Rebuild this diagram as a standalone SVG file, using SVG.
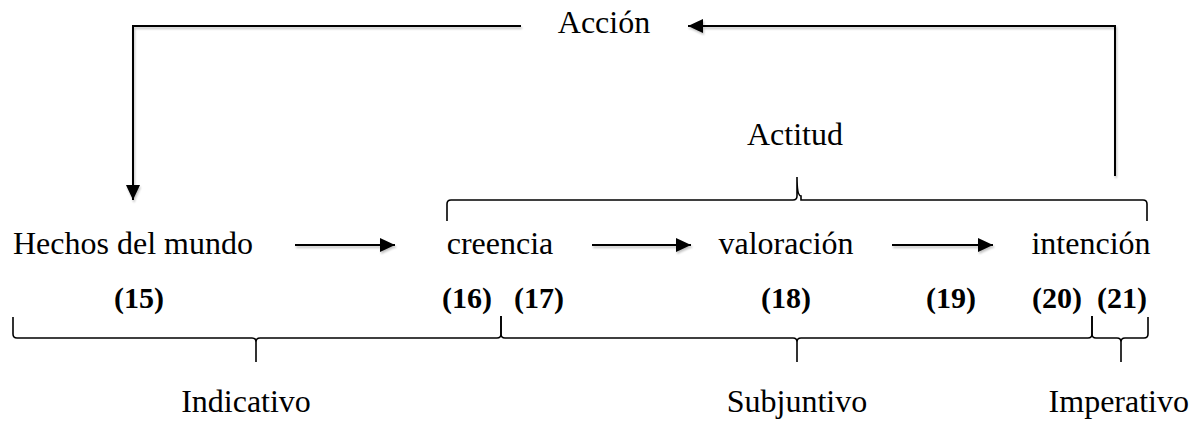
<svg xmlns="http://www.w3.org/2000/svg" width="1195" height="424" viewBox="0 0 1195 424">
  <style>
    .t { font-family: "Liberation Serif", "Times New Roman", serif; font-size: 32px; fill: #000; }
    .n { font-family: "Liberation Serif", "Times New Roman", serif; font-size: 30px; font-weight: bold; fill: #000; }
    .ln { fill: none; stroke: #000; stroke-width: 2; }
    .br { fill: none; stroke: #000; stroke-width: 1.6; }
  </style>
  <defs>
    <marker id="ah" viewBox="0 0 15 14" refX="15" refY="7" markerWidth="15" markerHeight="14" markerUnits="userSpaceOnUse" orient="auto">
      <path d="M0,0 L15,7 L0,14 Z" fill="#000"/>
    </marker>
    <!-- soft grey drop shadow under the connector lines -->
    <filter id="sh" x="-5%" y="-5%" width="110%" height="120%">
      <feGaussianBlur in="SourceAlpha" stdDeviation="1.2"/>
      <feOffset dx="1" dy="2"/>
      <feComponentTransfer><feFuncA type="linear" slope="0.25"/></feComponentTransfer>
      <feMerge><feMergeNode/><feMergeNode in="SourceGraphic"/></feMerge>
    </filter>
  </defs>

  <g id="connectors" filter="url(#sh)">
    <path class="ln" d="M521,26 H133 V200" marker-end="url(#ah)"/>
    <path class="ln" d="M1115,176 V26 H688" marker-end="url(#ah)"/>
    <path class="ln" d="M295,245 H395" marker-end="url(#ah)"/>
    <path class="ln" d="M592,245 H691" marker-end="url(#ah)"/>
    <path class="ln" d="M892,245 H993" marker-end="url(#ah)"/>
  </g>

  <g id="accion"><text class="t" x="604" y="33" text-anchor="middle">Acción</text></g>
  <g id="actitud">
    <text class="t" x="795" y="145" text-anchor="middle">Actitud</text>
    <path class="br" d="M447,221 V204 Q447,200 451,200 H793 Q797,200 797,196 V177 Q797,196 801,196 V200 H1143 Q1147,200 1147,204 V221"/>
  </g>

  <g id="hechos"><text class="t" x="13" y="254">Hechos del mundo</text></g>
  <g id="creencia"><text class="t" x="500" y="254" text-anchor="middle">creencia</text></g>
  <g id="valoracion"><text class="t" x="786" y="254" text-anchor="middle">valoración</text></g>
  <g id="intencion"><text class="t" x="1091" y="254" text-anchor="middle">intención</text></g>

  <g id="numeros">
    <text class="n" x="139" y="308" text-anchor="middle">(15)</text>
    <text class="n" x="467" y="308" text-anchor="middle">(16)</text>
    <text class="n" x="539" y="308" text-anchor="middle">(17)</text>
    <text class="n" x="786" y="308" text-anchor="middle">(18)</text>
    <text class="n" x="951" y="308" text-anchor="middle">(19)</text>
    <text class="n" x="1057" y="308" text-anchor="middle">(20)</text>
    <text class="n" x="1122" y="308" text-anchor="middle">(21)</text>
  </g>

  <g id="indicativo">
    <path class="br" d="M13,317 V334 Q13,338 17,338 H252 Q256,338 256,342 V362 M256,342 Q256,338 260,338 H497 Q501,338 501,334 V316"/>
    <text class="t" x="246" y="412" text-anchor="middle">Indicativo</text>
  </g>
  <g id="subjuntivo">
    <path class="br" d="M501,316 V334 Q501,338 505,338 H793 Q797,338 797,342 V362 M797,342 Q797,338 801,338 H1088 Q1092,338 1092,334 V316"/>
    <text class="t" x="797" y="412" text-anchor="middle">Subjuntivo</text>
  </g>
  <g id="imperativo">
    <path class="br" d="M1092,316 V334 Q1092,338 1096,338 H1117 Q1121,338 1121,342 V362 M1121,342 Q1121,338 1125,338 H1144 Q1148,338 1148,334 V317"/>
    <text class="t" x="1189" y="412" text-anchor="end">Imperativo</text>
  </g>
</svg>
